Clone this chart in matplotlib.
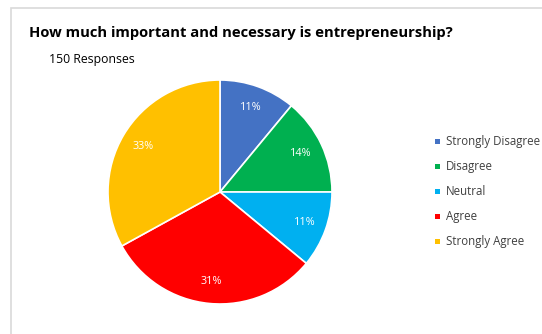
import matplotlib
matplotlib.use("Agg")
import matplotlib.pyplot as plt
from matplotlib.patches import Rectangle

categories = ["Strongly Disagree", "Disagree", "Neutral", "Agree", "Strongly Agree"]
percentages = [11, 14, 11, 31, 33]
colors = ["#4472C4", "#00B050", "#00B0F0", "#FF0000", "#FFC000"]
title = "How much important and necessary is entrepreneurship?"
subtitle = "150 Responses"

plt.rcParams["font.family"] = ["Open Sans", "DejaVu Sans"]

W, H = 542, 334
fig = plt.figure(figsize=(W / 100, H / 100), dpi=100)
fig.patch.set_facecolor("white")

# chart frame
fig.patches.append(Rectangle((11 / W, -0.1), 1.2, (H - 8) / H + 0.1,
                             transform=fig.transFigure, fill=False,
                             edgecolor="#D9D9D9", linewidth=1.2))

fig.text(29 / W, 1 - 33 / H, title, fontsize=10.6, fontweight="bold",
         va="center", ha="left", color="black")
fig.text(49 / W, 1 - 59 / H, subtitle, fontsize=8.8, va="center", ha="left",
         color="black")

cx, cy, r = 220, 192, 112
ax = fig.add_axes([(cx - r) / W, 1 - (cy + r) / H, 2 * r / W, 2 * r / H])
wedges, texts = ax.pie(percentages, colors=colors, startangle=90,
                       counterclock=False,
                       labels=[f"{p}%" for p in percentages],
                       labeldistance=0.8,
                       wedgeprops=dict(edgecolor="white", linewidth=1.2),
                       textprops=dict(color="white", fontsize=7.8))
for t in texts:
    t.set_ha("center")
    t.set_va("center")
ax.set_aspect("equal")
ax.set_xlim(-1, 1)
ax.set_ylim(-1, 1)

# legend entries
for i, (cat, col) in enumerate(zip(categories, colors)):
    y = 1 - (141.5 + 25 * i) / H
    fig.patches.append(Rectangle((434.5 / W, y - 2.5 / H), 5 / W, 5 / H,
                                 transform=fig.transFigure, facecolor=col,
                                 edgecolor="none"))
    fig.text(445.5 / W, y, cat, fontsize=8.3, va="center", ha="left",
             color="#404040")

fig.savefig("out.png", dpi=100)
